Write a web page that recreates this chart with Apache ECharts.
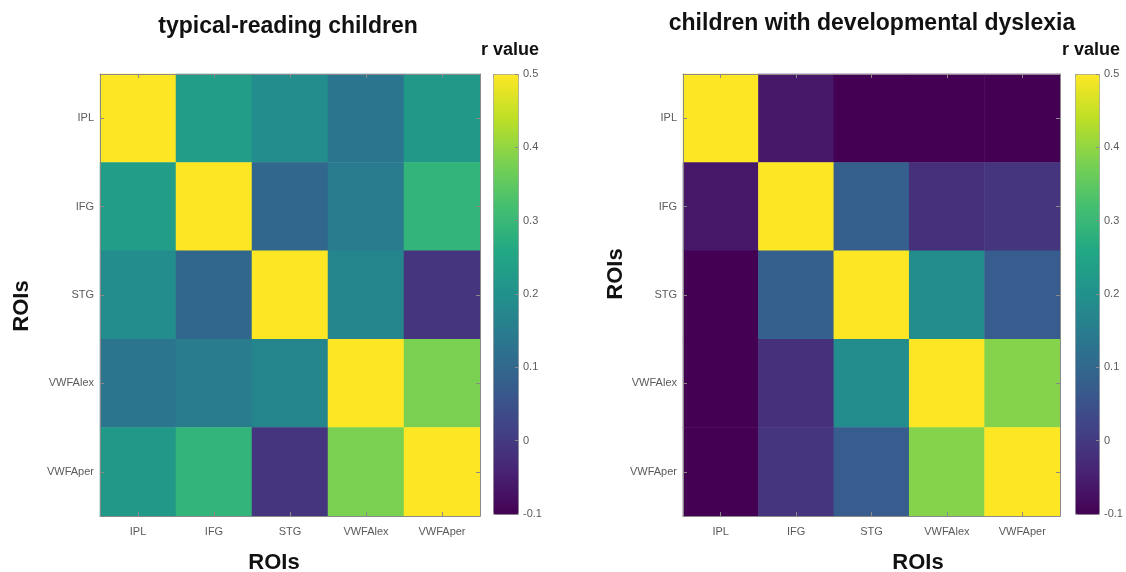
<!DOCTYPE html>
<html>
<head>
<meta charset="utf-8">
<script src="https://cdn.jsdelivr.net/npm/echarts@6/dist/echarts.min.js"></script>
<style>
  html, body { margin: 0; padding: 0; background: #fff; }
  #chart { width: 1126px; height: 572px; }
</style>
</head>
<body>
<div id="chart"></div>
<script>
// ---- data ----
var rois = ['IPL', 'IFG', 'STG', 'VWFAlex', 'VWFAper'];
var colorbarTicks = [-0.1, 0, 0.1, 0.2, 0.3, 0.4, 0.5];
// rows = y (top to bottom), cols = x (left to right)
var typicalMatrix = [
  [0.50, 0.23, 0.19, 0.135, 0.22],
  [0.23, 0.50, 0.10, 0.15, 0.29],
  [0.19, 0.10, 0.50, 0.17, -0.01],
  [0.135, 0.15, 0.17, 0.50, 0.38],
  [0.22, 0.29, -0.01, 0.38, 0.50]
];
var dyslexiaMatrix = [
  [0.50, -0.06, -0.10, -0.10, -0.10],
  [-0.06, 0.50, 0.08, -0.02, -0.01],
  [-0.10, 0.08, 0.50, 0.19, 0.075],
  [-0.10, -0.02, 0.19, 0.50, 0.39],
  [-0.10, -0.01, 0.075, 0.39, 0.50]
];
var viridis = ['#440154', '#482475', '#414487', '#355f8d', '#2a788e', '#21918c',
               '#22a884', '#44bf70', '#7ad151', '#bddf26', '#fde725'];

function toCells(m) {
  var out = [];
  for (var r = 0; r < m.length; r++)
    for (var c = 0; c < m[r].length; c++)
      out.push([c, r, m[r][c]]);
  return out;
}

var chart = echarts.init(document.getElementById('chart'));
var FONT = '"Liberation Sans", Arial, Helvetica, sans-serif';
var labelStyle = { color: '#5a5a5a', fontSize: 11, fontFamily: FONT };
var lineStyle = { color: '#8a8a8a', width: 1 };

function catX(gi, pos, showLabel) {
  return {
    type: 'category', gridIndex: gi, data: rois, position: pos, z: 10,
    axisLine: { show: true, onZero: false, lineStyle: lineStyle },
    axisTick: { show: true, inside: true, alignWithLabel: true, length: 4, lineStyle: lineStyle },
    axisLabel: Object.assign({ show: showLabel, margin: 10 }, labelStyle),
    splitLine: { show: false }
  };
}
function catY(gi, pos, showLabel) {
  return {
    type: 'category', gridIndex: gi, data: rois, position: pos, inverse: true, z: 10,
    axisLine: { show: true, onZero: false, lineStyle: lineStyle },
    axisTick: { show: true, inside: true, alignWithLabel: true, length: 4, lineStyle: lineStyle },
    axisLabel: Object.assign({ show: showLabel, margin: 6 }, labelStyle),
    splitLine: { show: false }
  };
}
function cbY(gi) {
  return {
    type: 'value', gridIndex: gi, position: 'right', min: colorbarTicks[0],
    max: colorbarTicks[colorbarTicks.length - 1], interval: 0.1, z: 10,
    axisLine: { show: false, onZero: false },
    axisTick: { show: true, inside: true, length: 3, lineStyle: lineStyle },
    axisLabel: Object.assign({ margin: 5, formatter: function (v) { return String(+v.toFixed(1)); } }, labelStyle),
    splitLine: { show: false }
  };
}
function cbX(gi) {
  return { type: 'value', gridIndex: gi, show: false, min: 0, max: 1, axisLine: { onZero: false } };
}

var option = {
  backgroundColor: '#ffffff',
  animation: false,
  grid: [
    { left: 100, top: 74, width: 380, height: 442 },
    { left: 683, top: 74, width: 377, height: 442 },
    { left: 493, top: 74, width: 25, height: 440 },
    { left: 1075, top: 74, width: 24, height: 440 }
  ],
  xAxis: [
    catX(0, 'bottom', true), catX(0, 'top', false),
    catX(1, 'bottom', true), catX(1, 'top', false),
    cbX(2), cbX(3)
  ],
  yAxis: [
    catY(0, 'left', true), catY(0, 'right', false),
    catY(1, 'left', true), catY(1, 'right', false),
    cbY(2), cbY(3)
  ],
  visualMap: [
    {
      type: 'continuous', seriesIndex: 0, min: -0.1, max: 0.5,
      calculable: false, left: 493, top: 74, itemWidth: 25, itemHeight: 440,
      padding: 0, borderColor: '#9a9a9a', borderWidth: 1,
      inRange: { color: viridis }, textStyle: { color: 'transparent' }
    },
    {
      type: 'continuous', seriesIndex: 1, min: -0.1, max: 0.5,
      calculable: false, left: 1075, top: 74, itemWidth: 24, itemHeight: 440,
      padding: 0, borderColor: '#9a9a9a', borderWidth: 1,
      inRange: { color: viridis }, textStyle: { color: 'transparent' }
    }
  ],
  series: [
    { type: 'heatmap', xAxisIndex: 0, yAxisIndex: 0, data: toCells(typicalMatrix), z: 2 },
    { type: 'heatmap', xAxisIndex: 2, yAxisIndex: 2, data: toCells(dyslexiaMatrix), z: 2 }
  ],
  graphic: [
    { type: 'text', x: 288, y: 27, style: { text: 'typical-reading children', font: 'bold 23px ' + FONT, fill: '#111', textAlign: 'center', textVerticalAlign: 'middle' } },
    { type: 'text', x: 872, y: 24, style: { text: 'children with developmental dyslexia', font: 'bold 23px ' + FONT, fill: '#111', textAlign: 'center', textVerticalAlign: 'middle' } },
    { type: 'text', x: 510, y: 50, style: { text: 'r value', font: 'bold 18px ' + FONT, fill: '#111', textAlign: 'center', textVerticalAlign: 'middle' } },
    { type: 'text', x: 1091, y: 50, style: { text: 'r value', font: 'bold 18px ' + FONT, fill: '#111', textAlign: 'center', textVerticalAlign: 'middle' } },
    { type: 'text', x: 274, y: 563, style: { text: 'ROIs', font: 'bold 22px ' + FONT, fill: '#111', textAlign: 'center', textVerticalAlign: 'middle' } },
    { type: 'text', x: 918, y: 563, style: { text: 'ROIs', font: 'bold 22px ' + FONT, fill: '#111', textAlign: 'center', textVerticalAlign: 'middle' } },
    { type: 'text', x: 22, y: 306, rotation: Math.PI / 2, style: { text: 'ROIs', font: 'bold 22px ' + FONT, fill: '#111', textAlign: 'center', textVerticalAlign: 'middle' } },
    { type: 'text', x: 616, y: 274, rotation: Math.PI / 2, style: { text: 'ROIs', font: 'bold 22px ' + FONT, fill: '#111', textAlign: 'center', textVerticalAlign: 'middle' } }
  ]
};
chart.setOption(option);
</script>
</body>
</html>
